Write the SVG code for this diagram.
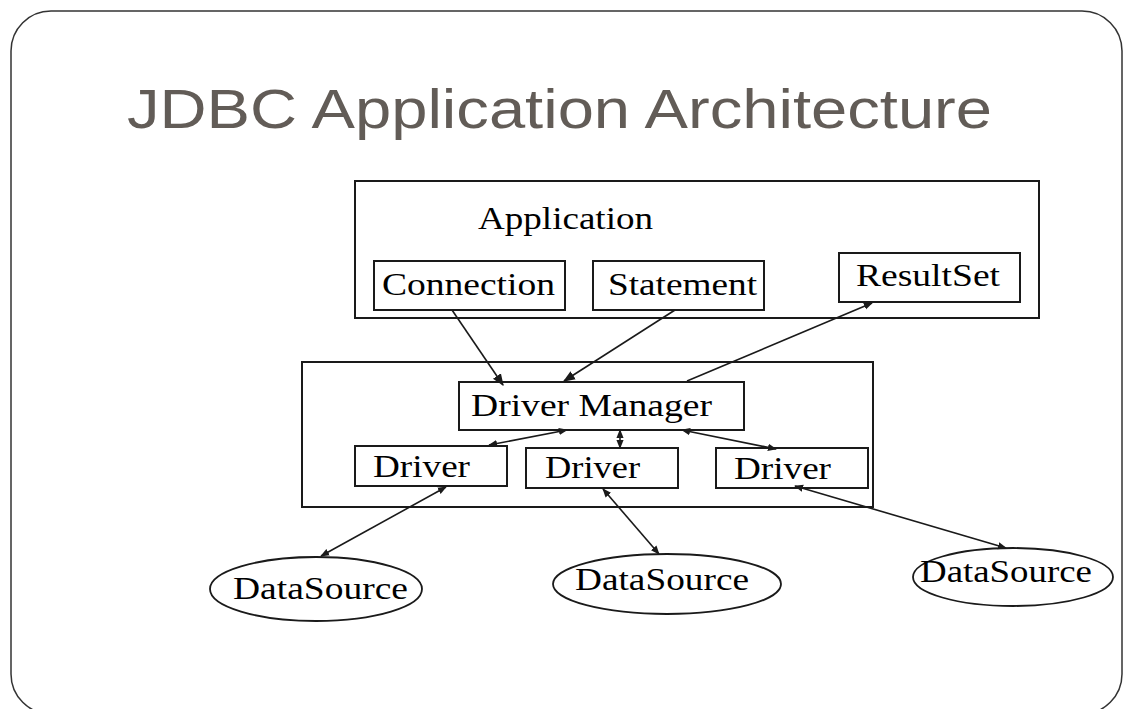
<svg xmlns="http://www.w3.org/2000/svg" width="1127" height="709" viewBox="0 0 1127 709">
  <style>
    .box { fill: #ffffff; stroke: #1a1a1a; stroke-width: 2; }
    .ds { fill: #ffffff; stroke: #1a1a1a; stroke-width: 1.8; }
    .lbl { font-family: "Liberation Serif", "Times New Roman", serif; font-size: 31px; fill: #000000; }
    .title { font-family: "Liberation Sans", Arial, sans-serif; font-size: 56px; fill: #625c57; }
    .edge { stroke: #1a1a1a; stroke-width: 1.6; fill: none; }
  </style>
  <defs>
    <marker id="head" viewBox="0 0 10 10" refX="9" refY="5" markerWidth="9" markerHeight="9" markerUnits="userSpaceOnUse" orient="auto-start-reverse">
      <path d="M0,1 L10,5 L0,9 Z" fill="#1a1a1a"/>
    </marker>
    <marker id="big" viewBox="0 0 10 10" refX="9" refY="5" markerWidth="12" markerHeight="12" markerUnits="userSpaceOnUse" orient="auto-start-reverse">
      <path d="M0,1 L10,5 L0,9 Z" fill="#1a1a1a"/>
    </marker>
  </defs>

  <!-- slide frame -->
  <rect x="11" y="11" width="1111" height="703" rx="40" ry="40" fill="#ffffff" stroke="#333333" stroke-width="1.5"/>

  <text class="title" x="127" y="128" textLength="865" lengthAdjust="spacingAndGlyphs">JDBC Application Architecture</text>

  <!-- application layer -->
  <g id="application">
    <rect class="box" x="355" y="181" width="684" height="137"/>
    <text class="lbl" x="478" y="229" textLength="175" lengthAdjust="spacingAndGlyphs">Application</text>
  </g>
  <g id="connection">
    <rect class="box" x="374" y="261" width="191" height="49"/>
    <text class="lbl" x="382" y="295" textLength="173" lengthAdjust="spacingAndGlyphs">Connection</text>
  </g>
  <g id="statement">
    <rect class="box" x="593" y="261" width="171" height="49"/>
    <text class="lbl" x="608" y="295" textLength="149" lengthAdjust="spacingAndGlyphs">Statement</text>
  </g>
  <g id="resultset">
    <rect class="box" x="839" y="253" width="181" height="49"/>
    <text class="lbl" x="856" y="286" textLength="144" lengthAdjust="spacingAndGlyphs">ResultSet</text>
  </g>

  <!-- driver layer -->
  <g id="driver-layer">
    <rect class="box" x="302" y="362" width="571" height="145"/>
  </g>
  <g id="driver-manager">
    <rect class="box" x="459" y="382" width="285" height="48"/>
    <text class="lbl" x="471" y="416" textLength="241" lengthAdjust="spacingAndGlyphs">Driver Manager</text>
  </g>
  <g id="driver-1">
    <rect class="box" x="355" y="446" width="152" height="40"/>
    <text class="lbl" x="373" y="477" textLength="97" lengthAdjust="spacingAndGlyphs">Driver</text>
  </g>
  <g id="driver-2">
    <rect class="box" x="526" y="448" width="152" height="40"/>
    <text class="lbl" x="545" y="478" textLength="95" lengthAdjust="spacingAndGlyphs">Driver</text>
  </g>
  <g id="driver-3">
    <rect class="box" x="716" y="448" width="152" height="40"/>
    <text class="lbl" x="734" y="479" textLength="97" lengthAdjust="spacingAndGlyphs">Driver</text>
  </g>

  <!-- data sources -->
  <g id="datasource-1">
    <ellipse class="ds" cx="316" cy="589" rx="106" ry="32"/>
    <text class="lbl" x="233" y="599" textLength="175" lengthAdjust="spacingAndGlyphs">DataSource</text>
  </g>
  <g id="datasource-2">
    <ellipse class="ds" cx="667" cy="584" rx="114" ry="30"/>
    <text class="lbl" x="575" y="590" textLength="174" lengthAdjust="spacingAndGlyphs">DataSource</text>
  </g>
  <g id="datasource-3">
    <ellipse class="ds" cx="1013" cy="577" rx="100" ry="29"/>
    <text class="lbl" x="920" y="582" textLength="172" lengthAdjust="spacingAndGlyphs">DataSource</text>
  </g>

  <!-- connectors -->
  <g id="connectors">
    <line class="edge" x1="452" y1="310" x2="503" y2="385" marker-end="url(#big)"/>
    <line class="edge" x1="675" y1="310" x2="564" y2="381" marker-end="url(#big)"/>
    <line class="edge" x1="687" y1="381" x2="872" y2="303" marker-end="url(#head)"/>

    <line class="edge" x1="567" y1="430" x2="489" y2="445" marker-start="url(#head)" marker-end="url(#head)"/>
    <line class="edge" x1="620" y1="430" x2="620" y2="448" marker-start="url(#head)" marker-end="url(#head)"/>
    <line class="edge" x1="682" y1="430" x2="776" y2="449" marker-start="url(#head)" marker-end="url(#head)"/>

    <line class="edge" x1="446" y1="487" x2="321" y2="556" marker-start="url(#head)" marker-end="url(#head)"/>
    <line class="edge" x1="603" y1="489" x2="659" y2="554" marker-start="url(#head)" marker-end="url(#head)"/>
    <line class="edge" x1="795" y1="486" x2="1006" y2="548" marker-start="url(#head)" marker-end="url(#head)"/>
  </g>
</svg>
